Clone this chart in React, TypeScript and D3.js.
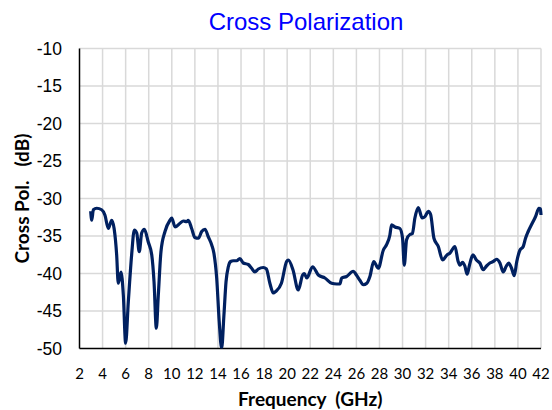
import React from "react";
import * as d3 from "d3";

const freqGHz = [
  2.97, 3.06, 3.2, 3.49, 3.92, 4.2, 4.5, 4.79, 5.0, 5.22, 5.36, 5.6, 5.8, 6.0, 6.23, 6.52, 6.75, 6.96, 7.18, 7.39,
  7.62, 7.96, 8.26, 8.46, 8.66, 8.83, 9.06, 9.41, 9.84, 10.0, 10.28, 10.71, 11.0, 11.29, 11.43, 11.72, 12.0, 12.3,
  12.59, 12.88, 13.16, 13.46, 13.65, 13.89, 14.11, 14.32, 14.52, 14.7, 14.9, 15.1, 15.33, 15.62, 15.9, 16.19, 16.63,
  16.92, 17.2, 17.5, 17.93, 18.2, 18.5, 18.8, 19.0, 19.5, 19.95, 20.1, 20.5, 20.96, 21.34, 21.48, 21.7, 22.2, 22.7,
  23.27, 23.85, 24.3, 24.57, 24.72, 25.15, 25.73, 26.0, 26.3, 26.6, 26.9, 27.17, 27.5, 27.9, 28.33, 28.6, 28.9,
  29.05, 29.34, 29.77, 30.0, 30.15, 30.35, 30.64, 30.85, 31.07, 31.36, 31.7, 31.95, 32.23, 32.43, 32.72, 33.1,
  33.47, 33.87, 34.1, 34.54, 34.82, 34.97, 35.2, 35.4, 35.6, 35.8, 36.1, 36.4, 36.7, 36.99, 37.28, 37.57, 37.86,
  38.15, 38.44, 38.72, 39.0, 39.2, 39.45, 39.68, 39.9, 40.17, 40.46, 40.66, 40.89, 41.24, 41.53, 41.82, 41.95, 42.0,
];

const crossPolDb = [
  -31.7, -32.9, -31.5, -31.3, -31.5, -32.2, -34.0, -32.9, -34.0, -37.5, -41.3, -39.8, -42.9, -49.3, -43.8, -37.5,
  -34.2, -34.6, -37.1, -34.6, -34.1, -35.8, -37.5, -41.1, -47.3, -42.9, -37.1, -34.4, -32.9, -32.6, -33.8, -33.3,
  -33.0, -33.1, -32.9, -34.0, -35.2, -35.3, -34.4, -34.1, -35.1, -36.2, -37.3, -40.6, -46.4, -50.0, -45.5, -41.1,
  -39.1, -38.4, -38.3, -38.3, -38.0, -38.6, -38.8, -39.3, -39.8, -39.4, -39.2, -39.4, -41.3, -42.6, -42.4, -41.3,
  -38.4, -38.2, -39.5, -42.2, -40.2, -40.0, -40.6, -39.1, -40.2, -40.6, -41.3, -41.4, -41.4, -40.6, -40.4, -39.7,
  -40.2, -40.9, -41.5, -41.3, -40.4, -38.4, -39.3, -36.9, -36.2, -34.9, -33.5, -33.8, -34.0, -35.3, -38.9, -35.5,
  -34.8, -34.7, -32.6, -31.2, -32.6, -32.4, -31.7, -32.1, -35.3, -36.4, -38.2, -37.5, -37.3, -36.4, -38.4, -38.9,
  -38.5, -39.0, -40.1, -38.9, -37.5, -38.2, -38.6, -39.5, -39.0, -38.6, -38.4, -38.1, -38.6, -39.8, -39.0, -38.6,
  -39.3, -40.3, -38.4, -36.9, -36.4, -35.3, -34.4, -33.3, -32.4, -31.3, -31.4, -32.2,
];

const xTicks = [2, 4, 6, 8, 10, 12, 14, 16, 18, 20, 22, 24, 26, 28, 30, 32, 34, 36, 38, 40, 42];
const yTicks = [-10, -15, -20, -25, -30, -35, -40, -45, -50];

const W = 552;
const H = 410;
const left = 79.5;
const right = 541;
const top = 48.5;
const bottom = 348.5;

export default function App() {
  const x = d3.scaleLinear().domain([2, 42]).range([left, right]);
  const y = d3.scaleLinear().domain([-50, -10]).range([bottom, top]);
  const pts: [number, number][] = freqGHz.map((f, i) => [f, crossPolDb[i]]);
  const line = d3
    .line<[number, number]>()
    .x((d) => x(d[0]))
    .y((d) => y(d[1]))
    .curve(d3.curveMonotoneX);

  return (
    <svg
      width={W}
      height={H}
      style={{ position: "absolute", left: 0, top: 0, background: "#fff" }}
    >
      <defs>
        <clipPath id="plotclip">
          <rect x={left} y={top - 5} width={right - left + 6} height={bottom - top + 5} />
        </clipPath>
      </defs>
      {xTicks.slice(1).map((t) => (
        <line key={"gx" + t} x1={x(t)} x2={x(t)} y1={top} y2={bottom} stroke="#d9d9d9" strokeWidth={1.5} />
      ))}
      {yTicks.slice(0, -1).map((t) => (
        <line key={"gy" + t} x1={left} x2={right} y1={y(t)} y2={y(t)} stroke="#d9d9d9" strokeWidth={1.5} />
      ))}
      <line x1={left} x2={left} y1={top} y2={bottom} stroke="#000" strokeWidth={1.5} />
      <line x1={left} x2={right} y1={bottom} y2={bottom} stroke="#000" strokeWidth={1.5} />
      <path
        d={line(pts) || ""}
        fill="none"
        stroke="#002060"
        strokeWidth={3.2}
        strokeLinejoin="round"
        clipPath="url(#plotclip)"
      />
      {yTicks.map((t) => (
        <text
          key={"ty" + t}
          x={62}
          y={y(t)}
          dy="0.35em"
          textAnchor="end"
          fontFamily="Liberation Sans, Arial, sans-serif"
          fontSize={17.5}
          fill="#000"
        >
          {t}
        </text>
      ))}
      {xTicks.map((t) => (
        <text
          key={"tx" + t}
          x={x(t)}
          y={374}
          dy="0.35em"
          textAnchor="middle"
          fontFamily="Lato, sans-serif"
          fontSize={15}
          fill="#000"
        >
          {t}
        </text>
      ))}
      <text
        x={(left + right) / 2}
        y={399}
        dy="0.35em"
        textAnchor="middle"
        fontFamily="Lato, sans-serif"
        fontWeight="bold"
        fontSize={19}
        fill="#000"
      >
        {"Frequency\u00A0\u00A0(GHz)"}
      </text>
      <text
        transform={`translate(22, ${(top + bottom) / 2}) rotate(-90)`}
        dy="0.35em"
        textAnchor="middle"
        fontFamily="Lato, sans-serif"
        fontWeight="bold"
        fontSize={19}
        fill="#000"
      >
        {"Cross Pol.\u00A0\u00A0\u00A0(dB)"}
      </text>
      <text
        x={306}
        y={22}
        dy="0.35em"
        textAnchor="middle"
        fontFamily="Liberation Sans, Arial, sans-serif"
        fontSize={24}
        fill="#0000FF"
      >
        Cross Polarization
      </text>
    </svg>
  );
}
